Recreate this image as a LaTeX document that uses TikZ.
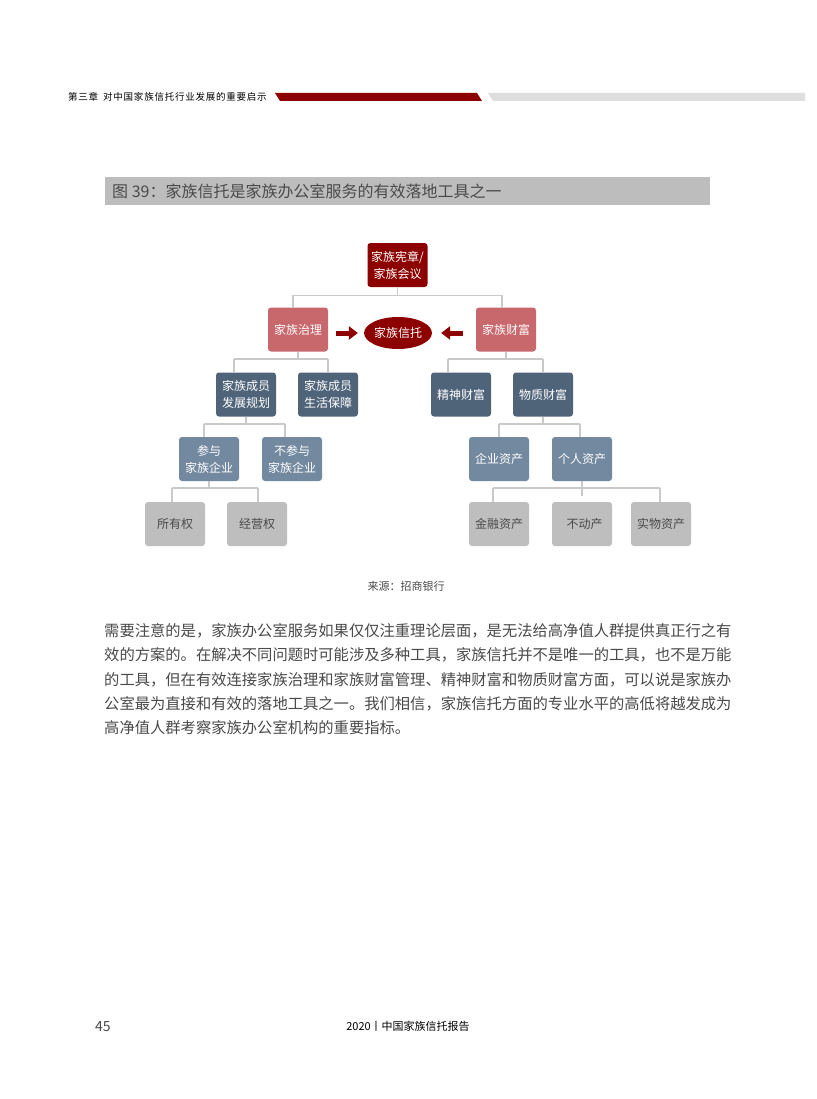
\documentclass[tikz,border=0pt]{standalone}
\usepackage{fontspec}
\setmainfont{Noto Sans CJK SC}
\newfontfamily\hdrfont[LetterSpace=8]{Noto Sans CJK SC}
\usetikzlibrary{shapes.geometric,arrows.meta}
\definecolor{hdred}{HTML}{8C0000}
\definecolor{hdgray}{HTML}{DEDEDE}
\definecolor{titlegray}{HTML}{BEBDBE}
\definecolor{pinkred}{HTML}{C8676C}
\definecolor{slatedark}{HTML}{506479}
\definecolor{slatelight}{HTML}{7389A0}
\definecolor{boxgray}{HTML}{BFBEBF}
\definecolor{linegray}{HTML}{C9C9C9}
\definecolor{txtgray}{HTML}{4A4A4A}
\begin{document}
\begin{tikzpicture}[x=1pt,y=-1pt,
  box/.style={rounded corners=3pt,minimum width=60pt,minimum height=44pt,inner sep=0pt,align=center,font=\fontsize{12}{17}\selectfont},
  redbox/.style={box,fill=hdred,text=white},
  pinkbox/.style={box,fill=pinkred,text=white},
  darkbox/.style={box,fill=slatedark,text=white},
  lightbox/.style={box,fill=slatelight,text=white},
  graybox/.style={box,fill=boxgray,text=txtgray},
  conn/.style={draw=linegray,line width=1.2pt},
  bigarrow/.style={draw=hdred,line width=5pt,-{Triangle[length=9pt,width=13pt]}}]
\useasboundingbox (0,0) rectangle (816,1099);
\fill[white] (0,0) rectangle (816,1099);
% header
\node[anchor=west,inner sep=0pt,font=\hdrfont\fontsize{9.5}{9.5}\selectfont,text=black] (hdr) at (68,97) {第三章\hspace{5pt}对中国家族信托行业发展的重要启示};
\fill[hdred] (275,93) -- (477,93) -- (482,101) -- (280,101) -- cycle;
\fill[hdgray] (488,93) -- (805,93) -- (805,101) -- (493,101) -- cycle;
% title bar
\fill[titlegray] (105,177) rectangle (710,205);
\node[anchor=west,inner sep=0pt,font=\fontsize{16}{16}\selectfont,text=txtgray] (title) at (112,191) {图 39：家族信托是家族办公室服务的有效落地工具之一};
% nodes
\node[redbox] (charter) at (397.5,265) {家族宪章/\\家族会议};
\node[pinkbox] (gov) at (298,329.5) {家族治理};
\node[pinkbox] (wealth) at (506,329.5) {家族财富};
\node[ellipse,fill=hdred,text=white,minimum width=61pt,minimum height=32pt,inner sep=0pt,font=\fontsize{12}{12}\selectfont] (trust) at (398,333) {家族信托};
\node[darkbox] (plan) at (246,394.5) {家族成员\\发展规划};
\node[darkbox] (life) at (328,394.5) {家族成员\\生活保障};
\node[darkbox] (spirit) at (461,394.5) {精神财富};
\node[darkbox] (material) at (543,394.5) {物质财富};
\node[lightbox] (join) at (209,459) {参与\\家族企业};
\node[lightbox] (nojoin) at (292,459) {不参与\\家族企业};
\node[lightbox] (corp) at (499,459) {企业资产};
\node[lightbox] (pers) at (582,459) {个人资产};
\node[graybox] (own) at (175,524) {所有权};
\node[graybox] (oper) at (257,524) {经营权};
\node[graybox] (fin) at (499,524) {金融资产};
\node[graybox] (real) at (582,524) {\ \ 不动产};
\node[graybox] (phys) at (661,524) {实物资产};
% connectors
\draw[conn] (charter.south) -- ++(0,8) -| (293,308);
\draw[conn] (charter.south) ++(0,8) -| (502,308);
\draw[conn] (gov.south) -- (gov.south |- 0,359) coordinate (g1);
\draw[conn] (234,359) -- (328,359);
\draw[conn] (234,359) -- (234,372);
\draw[conn] (life.north) -- (life.north |- 0,359);
\draw[conn] (wealth.south) -- (wealth.south |- 0,359);
\draw[conn] (448,359) -- (543,359);
\draw[conn] (448,359) -- (448,372);
\draw[conn] (material.north) -- (material.north |- 0,359);
\draw[conn] (plan.south) -- (plan.south |- 0,424);
\draw[conn] (204,424) -- (285,424);
\draw[conn] (204,424) -- (204,437);
\draw[conn] (285,424) -- (285,437);
\draw[conn] (material.south) -- (material.south |- 0,424);
\draw[conn] (499,424) -- (580,424);
\draw[conn] (corp.north) -- (corp.north |- 0,424);
\draw[conn] (580,424) -- (580,437);
\draw[conn] (join.south) -- (join.south |- 0,488);
\draw[conn] (172,488) -- (258,488);
\draw[conn] (172,488) -- (172,502);
\draw[conn] (258,488) -- (258,502);
\draw[conn] (pers.south) -- (pers.south |- 0,496);
\draw[conn] (493,488) -- (660,488);
\draw[conn] (493,488) -- (493,502);
\draw[conn] (660,488) -- (660,502);
% arrows
\draw[bigarrow,shorten <=8pt,shorten >=6pt] (gov.east |- trust.west) -- (trust.west);
\draw[bigarrow,shorten <=13pt,shorten >=9pt] (wealth.west |- trust.east) -- (trust.east);
% source
\node[inner sep=0pt,font=\fontsize{11}{11}\selectfont,text=txtgray] (src) at (406,586) {来源：招商银行};
% paragraph
\node[anchor=north west,inner sep=0pt,align=left,font=\fontsize{15.3}{24.4}\selectfont,text=txtgray] (para) at (104,623) {需要注意的是，家族办公室服务如果仅仅注重理论层面，是无法给高净值人群提供真正行之有\\效的方案的。在解决不同问题时可能涉及多种工具，家族信托并不是唯一的工具，也不是万能\\的工具，但在有效连接家族治理和家族财富管理、精神财富和物质财富方面，可以说是家族办\\公室最为直接和有效的落地工具之一。我们相信，家族信托方面的专业水平的高低将越发成为\\高净值人群考察家族办公室机构的重要指标。};
% footer
\node[anchor=west,inner sep=0pt,font=\fontsize{14}{14}\selectfont,text=txtgray] (pg) at (95,1027) {45};
\node[inner sep=0pt,font=\fontsize{11}{11}\selectfont,text=black] (foot) at (408,1026) {2020丨中国家族信托报告};
\end{tikzpicture}
\end{document}
